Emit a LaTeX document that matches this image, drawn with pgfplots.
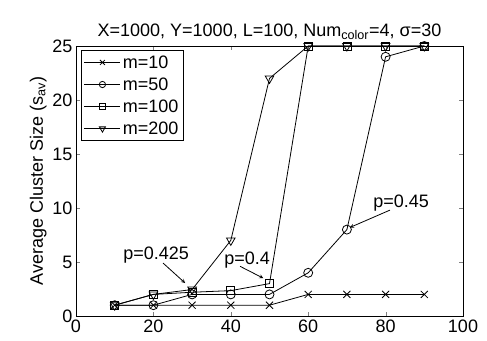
\documentclass[border=0pt]{standalone}
\usepackage{fontspec}
\setmainfont{Liberation Sans}
\usepackage{pgfplots}
\pgfplotsset{compat=1.18}
\begin{document}
\begin{tikzpicture}
\useasboundingbox (-76bp,-25bp) rectangle (411bp,316bp);
\begin{axis}[
  scale only axis, width=387bp, height=270bp,
  xmin=0, xmax=100, ymin=0, ymax=25,
  xtick={0,20,...,100}, ytick={0,5,...,25},
  tick align=inside, tick pos=both,
  major tick length=4bp,
  /pgf/number format/assume math mode=true,
  tick label style={font=\fontsize{18bp}{20bp}\selectfont},
  xticklabel style={yshift=0bp},
  yticklabel style={xshift=0bp},
  label style={font=\fontsize{18bp}{20bp}\selectfont},
  title style={font=\fontsize{18bp}{20bp}\selectfont, yshift=-3bp},
  title={X=1000, Y=1000, L=100, Num\textsubscript{color}=4, σ=30},
  ylabel={Average Cluster Size (s\textsubscript{av})},
  ylabel style={yshift=-1bp},
  axis line style={line width=0.8pt},
  every axis plot/.append style={black, line width=0.8pt},
  legend style={at={(0.012,0.985)}, anchor=north west, draw=black, line width=0.8pt,
    font=\fontsize{18bp}{21bp}\selectfont, row sep=4bp, inner xsep=3bp, inner ysep=3bp},
  legend cell align=left,
  legend image code/.code={
    \draw[mark repeat=2,mark phase=2, every mark/.append style={scale=0.7}] plot coordinates {(0bp,0bp) (18bp,0bp) (36bp,0bp)};},
]
\addplot[mark=x, mark size=5bp] coordinates {(10,1)(20,1)(30,1)(40,1)(50,1)(60,2)(70,2)(80,2)(90,2)};
\addlegendentry{m=10}
\addplot[mark=o, mark size=4.5bp] coordinates {(10,1)(20,1)(30,2)(40,2)(50,2)(60,4)(70,8)(80,24)(90,25)};
\addlegendentry{m=50}
\addplot[mark=square, mark size=4bp] coordinates {(10,1)(20,2)(30,2.2)(40,2.35)(50,3)(60,25)(70,25)(80,25)(90,25)};
\addlegendentry{m=100}
\addplot[mark=triangle, mark options={rotate=180}, mark size=5bp] coordinates {(10,1)(20,2)(30,2.45)(40,7)(50,22)(60,25)(70,25)(80,25)(90,25)};
\addlegendentry{m=200}
\node[font=\fontsize{18bp}{20bp}\selectfont] at (axis cs:20.7,5.65) {p=0.425};
\draw[-stealth, line width=0.8pt] (axis cs:22.5,4.9) -- (axis cs:28.2,3.05);
\node[font=\fontsize{18bp}{20bp}\selectfont] at (axis cs:44.2,5.2) {p=0.4};
\draw[-stealth, line width=0.8pt] (axis cs:42.4,4.6) -- (axis cs:48.4,3.5);
\node[font=\fontsize{18bp}{20bp}\selectfont] at (axis cs:84,10.5) {p=0.45};
\draw[-stealth, line width=0.8pt] (axis cs:81.1,9.8) -- (axis cs:70.8,8.2);
\end{axis}
\end{tikzpicture}
\end{document}
